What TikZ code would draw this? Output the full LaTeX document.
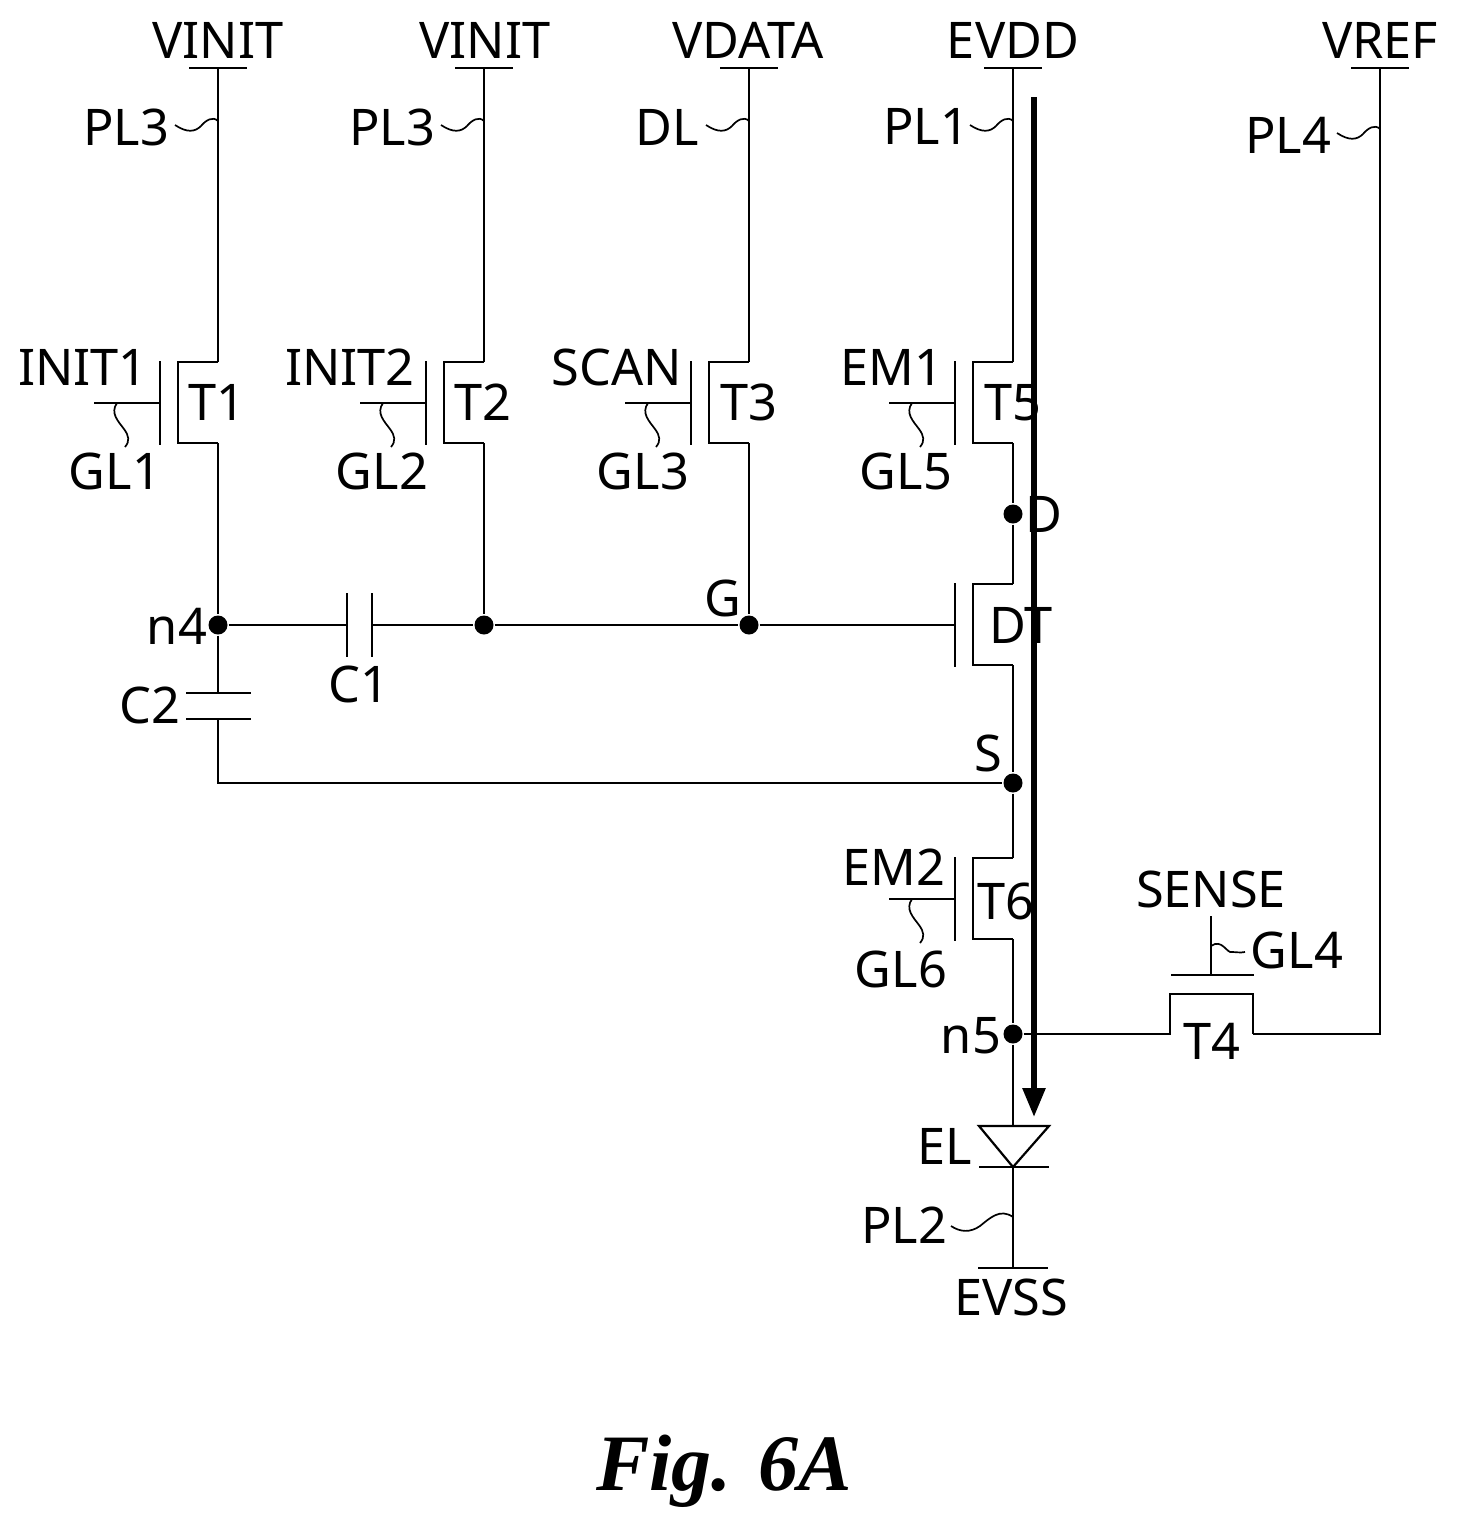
\documentclass[tikz,border=0pt]{standalone}
\usepackage{fontspec}
\setmainfont{Noto Sans}
\newfontfamily\figfont{Liberation Serif}
\usetikzlibrary{arrows.meta}
\tikzstyle{lbl} = [anchor=base,inner sep=0pt,font=\fontsize{50.5pt}{50pt}\selectfont]
\tikzstyle{dot} = [circle,fill=black,minimum size=19pt,inner sep=0pt]
\tikzstyle{wire} = [line width=2.2pt]
\tikzstyle{leader} = [line width=1.7pt]
\tikzstyle{flow} = [line width=5.7pt,-{Triangle[length=29pt,width=22pt]}]

\begin{document}
\begin{tikzpicture}[x=1pt,y=-1pt,every path/.style={wire}]
\useasboundingbox (0,0) rectangle (1458,1526);

\node[dot] (nfour) at (218,625) {};
\node[dot] (njoin) at (484,625) {};
\node[dot] (ng) at (749,625) {};
\node[dot] (nd) at (1013,514) {};
\node[dot] (ns) at (1013,783) {};
\node[dot] (nfive) at (1013,1034) {};

\foreach \n/\x/\y in {ta/218/403,tb/484/403,tc/749/403,te/1013/403,tf/1013/899,dt/1013/625} {
  \coordinate (\n top) at (\x,\y-41);
  \coordinate (\n bot) at (\x,\y+40);
  \coordinate (\n gate) at (\x-58,\y);
  \draw (\n top) -- (\x-40,\y-41) -- (\x-40,\y+40) -- (\n bot);
  \draw (\x-58,\y-42) -- (\x-58,\y+42);
}
\foreach \n/\x/\y in {ta/218/403,tb/484/403,tc/749/403,te/1013/403,tf/1013/899} {
  \coordinate (\n in) at (\x-124,\y);
  \draw (\n in) -- (\n gate);
  \draw[leader] (\x-101,\y) .. controls (\x-108,\y+10) and (\x-100,\y+18) .. (\x-94,\y+26)
    .. controls (\x-89,\y+33) and (\x-88,\y+38) .. (\x-93,\y+44);
}

\foreach \n/\x/\y/\w in {va/218/68/29,vb/484/68/29,vc/749/68/29,ve/1013/68/29,vr/1380/68/29,vs/1013/1268/35} {
  \coordinate (\n) at (\x,\y);
  \draw (\x-\w,\y) -- (\x+\w,\y);
}
\foreach \x/\y in {218/120,484/120,749/120,1013/120,1380/128} {
  \draw[leader] (\x-43,\y+5) .. controls (\x-31,\y+13) and (\x-23,\y+12) .. (\x-17,\y+6)
    .. controls (\x-12,\y) and (\x-5,\y-4) .. (\x,\y+1);
}
\draw[leader] (951,1226) .. controls (960,1232) and (970,1233) .. (980,1226)
  .. controls (990,1218) and (1000,1208) .. (1013,1217);
\draw[leader] (1211,946) .. controls (1222,938) and (1227,954) .. (1232,952) .. controls (1236,952) and (1240,953) .. (1245,952);

\draw (va) -- (tatop);
\draw (vb) -- (tbtop);
\draw (vc) -- (tctop);
\draw (ve) -- (tetop);
\draw (tabot) -- (nfour);
\draw (tbbot) -- (njoin);
\draw (tcbot) -- (ng);
\draw (tebot) -- (nd);
\draw (nd) -- (dttop);
\draw (dtbot) -- (ns);
\draw (ns) -- (tftop);
\draw (tfbot) -- (nfive);

\coordinate (cone) at (347,625);
\coordinate (ctwo) at (372,625);
\draw (nfour) -- (cone);
\draw (347,593) -- (347,657);
\draw (372,593) -- (372,657);
\draw (ctwo) -- (njoin);
\draw (njoin) -- (ng);
\draw (ng) -- (dtgate);

\coordinate (cthree) at (218,693);
\coordinate (cfour) at (218,719);
\draw (nfour) -- (cthree);
\draw (186,693) -- (251,693);
\draw (186,719) -- (251,719);
\draw (cfour) |- (ns);

\coordinate (tsensel) at (1170,1034);
\coordinate (tsenser) at (1253,1034);
\coordinate (gsense) at (1211,975);
\draw (nfive) -- (tsensel) -- (1170,994) -- (1253,994) -- (tsenser);
\draw (tsenser) -| (vr);
\draw (1171,975) -- (1254,975);
\draw (gsense) -- (1211,916);

\coordinate (eltop) at (1013,1126);
\coordinate (elbot) at (1013,1167);
\draw (nfive) -- (eltop);
\draw[line join=miter] (979,1126) -- (1049,1126) -- (elbot) -- cycle;
\draw (979,1167) -- (1049,1167);
\draw (elbot) -- (vs);

\node[lbl] (lva) at (218,58) {VINIT};
\node[lbl] (lvb) at (485,58) {VINIT};
\node[lbl] (lvc) at (748,58) {VDATA};
\node[lbl] (lve) at (1013,58) {EVDD};
\node[lbl] (lvr) at (1380,58) {VREF};
\node[lbl] (lpa) at (126,145) {PL3};
\node[lbl] (lpb) at (392,145) {PL3};
\node[lbl] (lpc) at (667,145) {DL};
\node[lbl] (lpe) at (926,144) {PL1};
\node[lbl] (lpr) at (1288,153) {PL4};
\node[lbl] (lga) at (83,385) {INIT1};
\node[lbl] (lgb) at (350,385) {INIT2};
\node[lbl] (lgc) at (617,385) {SCAN};
\node[lbl] (lge) at (892,385) {EM1};
\node[lbl] (lta) at (217,420) {T1};
\node[lbl] (ltb) at (483,420) {T2};
\node[lbl] (ltc) at (749,420) {T3};
\node[lbl] (lte) at (1013,420) {T5};
\node[lbl] (lsa) at (115,489) {GL1};
\node[lbl] (lsb) at (382,489) {GL2};
\node[lbl] (lsc) at (643,489) {GL3};
\node[lbl] (lse) at (906,489) {GL5};
\node[lbl] (ld) at (1044,532) {D};
\node[lbl] (lg) at (723,616) {G};
\node[lbl] (ln4) at (177,644) {n4};
\node[lbl] (ldt) at (1021,643) {DT};
\node[lbl] (lc1) at (359,702) {C1};
\node[lbl] (lc2) at (150,723) {C2};
\node[lbl] (ls) at (988,771) {S};
\node[lbl] (lgf) at (894,885) {EM2};
\node[lbl] (ltf) at (1006,919) {T6};
\node[lbl] (lse2) at (1211,907) {SENSE};
\node[lbl] (lgl4) at (1297,968) {GL4};
\node[lbl] (lsf) at (901,987) {GL6};
\node[lbl] (ln5) at (971,1053) {n5};
\node[lbl] (lt4) at (1212,1059) {T4};
\node[lbl] (lel) at (945,1164) {EL};
\node[lbl] (lpl2) at (904,1243) {PL2};
\node[lbl] (levss) at (1011,1315) {EVSS};
\node[lbl,font=\figfont\bfseries\itshape\fontsize{80pt}{80pt}\selectfont] (lfig) at (724,1490) {Fig. 6A};

\coordinate (fstart) at (1034,97);
\coordinate (fend) at (1034,1117);
\draw[flow] (fstart) -- (fend);
\end{tikzpicture}
\end{document}
